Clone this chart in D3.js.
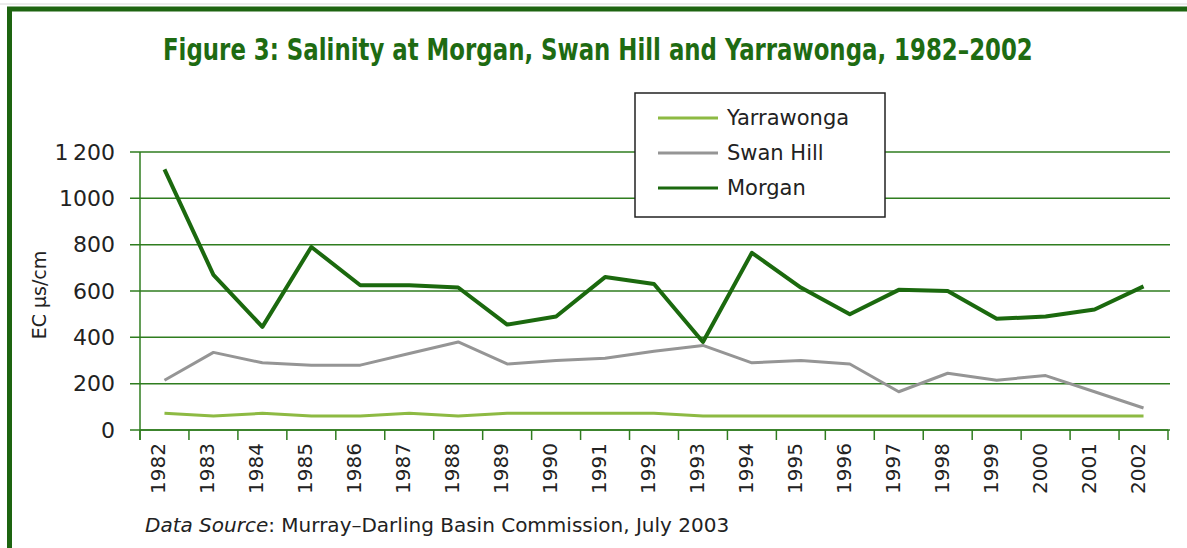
<!DOCTYPE html>
<html>
<head>
<meta charset="utf-8">
<script src="https://cdn.jsdelivr.net/npm/d3@7"></script>
<style>
  html, body { margin: 0; padding: 0; background: #fff; }
  svg { display: block; }
</style>
</head>
<body>
<div id="chart"></div>
<script>
// Salinity at Morgan, Swan Hill and Yarrawonga, 1982-2002 (EC µs/cm)
var years = ['1982', '1983', '1984', '1985', '1986', '1987', '1988', '1989', '1990', '1991', '1992',
  '1993', '1994', '1995', '1996', '1997', '1998', '1999', '2000', '2001', '2002'];
var morgan = [1125, 670, 445, 790, 625, 625, 615, 455, 490, 660, 630,
  380, 765, 615, 500, 605, 600, 480, 490, 520, 620];
var swanHill = [215, 335, 290, 280, 280, 330, 380, 285, 300, 310, 340,
  365, 290, 300, 285, 165, 245, 215, 235, 165, 95];
var yarrawonga = [72, 60, 72, 60, 60, 72, 60, 72, 72, 72, 72,
  60, 60, 60, 60, 60, 60, 60, 60, 60, 60];
var yTicks = [0, 200, 400, 600, 800, 1000, 1200];

var W = 1187, H = 548;
var LEFT = 140, RIGHT = 1168, TOP = 152, BOTTOM = 430;
var GREEN = '#2f7d1f';
var FONT = '"DejaVu Sans", sans-serif';

var svg = d3.select('#chart').append('svg')
  .attr('width', W)
  .attr('height', H);

// frame
svg.append('line').attr('x1', 0).attr('x2', W).attr('y1', 4).attr('y2', 4)
  .attr('stroke', '#d8d8d8').attr('stroke-width', 1);
svg.append('path')
  .attr('d', 'M9.5,' + H + 'V9H' + W)
  .attr('fill', 'none')
  .attr('stroke', '#1d6410')
  .attr('stroke-width', 5);

// title: tall condensed bold, squeezed horizontally to the reference width
var titleG = svg.append('g');
var title = titleG.append('text')
  .attr('x', 0)
  .attr('y', 0)
  .attr('fill', '#1e6b12')
  .attr('font-family', '"DejaVu Sans Condensed", "DejaVu Sans", sans-serif')
  .attr('font-stretch', 'condensed')
  .attr('font-weight', 'bold')
  .attr('font-size', '30px')
  .text('Figure 3: Salinity at Morgan, Swan Hill and Yarrawonga, 1982\u20132002');
var tw = title.node().getComputedTextLength() || 870;
titleG.attr('transform', 'translate(163,60) scale(' + (870 / tw) + ',1)');

var x = d3.scaleBand().domain(years).range([LEFT, RIGHT]).padding(0);
var y = d3.scaleLinear().domain([0, 1200]).range([BOTTOM, TOP]);

// horizontal gridlines
svg.append('g')
  .selectAll('line')
  .data(yTicks)
  .join('line')
  .attr('x1', LEFT - 10)
  .attr('x2', RIGHT + 2)
  .attr('y1', function(d) { return y(d); })
  .attr('y2', function(d) { return y(d); })
  .attr('stroke', GREEN)
  .attr('stroke-width', 1.5);

// y axis
var yAxis = svg.append('g')
  .attr('transform', 'translate(' + LEFT + ',0)')
  .call(d3.axisLeft(y).tickValues(yTicks).tickSize(0).tickPadding(25)
    .tickFormat(function(d) { return d === 1200 ? '1\u2009200' : String(d); }));
yAxis.select('.domain').attr('stroke', GREEN).attr('stroke-width', 1.5)
  .attr('d', 'M0,' + TOP + 'V' + (BOTTOM + 10));
yAxis.selectAll('text')
  .attr('font-family', FONT)
  .attr('font-size', '22px')
  .attr('fill', '#222');

svg.append('text')
  .attr('transform', 'translate(46,295) rotate(-90)')
  .attr('text-anchor', 'middle')
  .attr('font-family', FONT)
  .attr('font-size', '19px')
  .attr('fill', '#222')
  .text('EC \u00b5s/cm');

// x axis with ticks on band edges
var xAxis = svg.append('g')
  .attr('transform', 'translate(0,' + BOTTOM + ')');
xAxis.append('line')
  .attr('x1', LEFT).attr('x2', RIGHT)
  .attr('stroke', GREEN).attr('stroke-width', 1.5);
var edges = years.map(function(d) { return x(d); }).concat([RIGHT]);
xAxis.selectAll('.tick-edge')
  .data(edges)
  .join('line')
  .attr('class', 'tick-edge')
  .attr('x1', function(d) { return d; })
  .attr('x2', function(d) { return d; })
  .attr('y1', 0).attr('y2', 10)
  .attr('stroke', GREEN).attr('stroke-width', 1.5);
xAxis.selectAll('.year')
  .data(years)
  .join('text')
  .attr('class', 'year')
  .attr('transform', function(d) {
    return 'translate(' + (x(d) + x.bandwidth() / 2 + 1) + ',13) rotate(-90)';
  })
  .attr('text-anchor', 'end')
  .attr('font-family', FONT)
  .attr('font-size', '20px')
  .attr('fill', '#222')
  .text(function(d) { return d; });

// series
var series = [
  { name: 'Yarrawonga', values: yarrawonga, color: '#8dba43', width: 3 },
  { name: 'Swan Hill', values: swanHill, color: '#959595', width: 3 },
  { name: 'Morgan', values: morgan, color: '#1b690e', width: 4 }
];

var line = d3.line()
  .x(function(d, i) { return x(years[i]) + x.bandwidth() / 2; })
  .y(function(d) { return y(d); });

series.forEach(function(s) {
  svg.append('path')
    .datum(s.values)
    .attr('d', line)
    .attr('fill', 'none')
    .attr('stroke', s.color)
    .attr('stroke-width', s.width)
    .attr('stroke-linejoin', 'round');
});

// legend
var legend = svg.append('g');
legend.append('rect')
  .attr('x', 635).attr('y', 93)
  .attr('width', 250).attr('height', 124)
  .attr('fill', '#fff')
  .attr('stroke', '#222')
  .attr('stroke-width', 1.5);
series.forEach(function(s, i) {
  var ly = 118 + i * 35;
  legend.append('line')
    .attr('x1', 658).attr('x2', 718)
    .attr('y1', ly).attr('y2', ly)
    .attr('stroke', s.color)
    .attr('stroke-width', 3);
  legend.append('text')
    .attr('x', 727).attr('y', ly)
    .attr('dy', '0.35em')
    .attr('font-family', FONT)
    .attr('font-size', '21px')
    .attr('fill', '#222')
    .text(s.name);
});

// source note
var note = svg.append('text')
  .attr('x', 145).attr('y', 532)
  .attr('font-family', FONT)
  .attr('font-size', '20px')
  .attr('fill', '#222');
note.append('tspan').attr('font-style', 'italic').text('Data Source');
note.append('tspan').text(': Murray\u2013Darling Basin Commission, July 2003');
</script>
</body>
</html>
